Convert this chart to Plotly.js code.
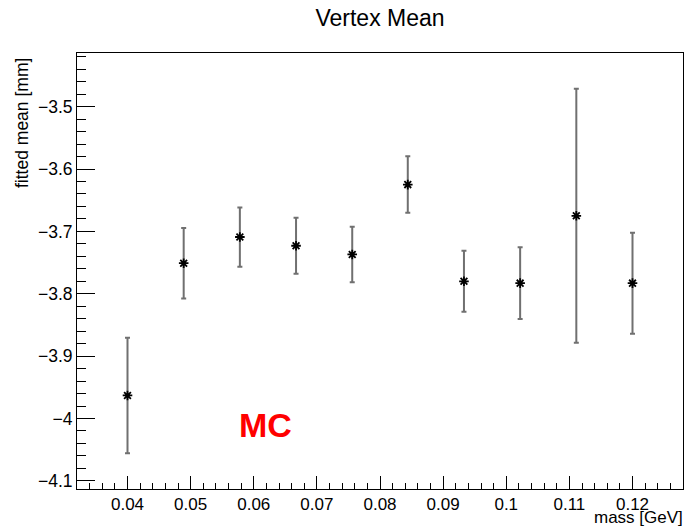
<!DOCTYPE html>
<html>
<head>
<meta charset="utf-8">
<script src="https://cdn.plot.ly/plotly-3.0.1.min.js"></script>
<style>html,body{margin:0;padding:0;background:#fff;}#chart{width:687px;height:529px;}</style>
</head>
<body>
<div id="chart"></div>
<script>
// Data
const massGeV = [0.04, 0.0489, 0.0578, 0.0667, 0.0756, 0.0844, 0.0933, 0.1022, 0.1111, 0.12];
const fittedMean = [-3.963, -3.751, -3.709, -3.723, -3.737, -3.625, -3.780, -3.783, -3.675, -3.783];
const meanError = [0.0925, 0.0565, 0.0475, 0.045, 0.0446, 0.0453, 0.049, 0.0576, 0.2035, 0.081];

const titleText = "Vertex Mean";
const xTitle = "mass [GeV]";
const yTitle = "fitted mean [mm]";
const labelText = "MC";

const FONT = "Liberation Sans, Arial, Helvetica, sans-serif";

const trace = {
  x: massGeV,
  y: fittedMean,
  type: "scatter",
  mode: "markers",
  marker: {symbol: "asterisk-open", size: 8, color: "#000", line: {color: "#000", width: 1.8}},
  error_y: {type: "data", array: meanError, visible: true, color: "#707070", thickness: 2, width: 2.5},
  showlegend: false,
  hoverinfo: "x+y"
};

const layout = {
  width: 687, height: 529,
  paper_bgcolor: "#fff", plot_bgcolor: "#fff",
  margin: {l: 77, r: 4, t: 53, b: 40, pad: 0},
  font: {family: FONT, color: "#000"},
  title: {text: titleText, font: {family: FONT, size: 23, color: "#000"},
          xref: "paper", x: 0.5, xanchor: "center", yref: "container", y: 1 - 18/529, yanchor: "middle"},
  xaxis: {
    range: [0.032, 0.128], showgrid: false, zeroline: false,
    showline: true, linecolor: "#000", linewidth: 1, mirror: true,
    ticks: "inside", ticklen: 13, tickwidth: 1, tickcolor: "#000",
    tick0: 0.04, dtick: 0.01, tickformat: "",
    tickfont: {family: FONT, size: 17, color: "#000"},
    minor: {ticks: "inside", ticklen: 6.5, tickwidth: 1, tickcolor: "#000", dtick: 0.002, tick0: 0.04, showgrid: false}
  },
  yaxis: {
    range: [-4.113, -3.414], showgrid: false, zeroline: false,
    showline: true, linecolor: "#000", linewidth: 1, mirror: true,
    ticks: "inside", ticklen: 18, tickwidth: 1, tickcolor: "#000",
    tick0: -4.1, dtick: 0.1,
    tickfont: {family: FONT, size: 17.5, color: "#000"},
    minor: {ticks: "inside", ticklen: 9, tickwidth: 1, tickcolor: "#000", dtick: 0.02, tick0: -4.1, showgrid: false}
  },
  annotations: [
    {text: yTitle, textangle: -90, xref: "paper", yref: "paper", x: (22 - 77) / 606, y: 1 - 3/436,
     xanchor: "center", yanchor: "top", showarrow: false, font: {family: FONT, size: 17.5, color: "#000"}},
    {text: xTitle, xref: "paper", yref: "paper", x: 1 + 2/606, y: (489 - 529) / 436,
     xanchor: "right", yanchor: "bottom", showarrow: false, font: {family: FONT, size: 17, color: "#000"}},
    {text: "<b>" + labelText + "</b>", xref: "paper", yref: "paper", x: (265 - 77) / 606, y: (489 - 425) / 436,
     xanchor: "center", yanchor: "middle", showarrow: false, font: {family: FONT, size: 34, color: "#ff0000"}}
  ]
};

Plotly.newPlot("chart", [trace], layout, {displayModeBar: false, staticPlot: true});
</script>
</body>
</html>
